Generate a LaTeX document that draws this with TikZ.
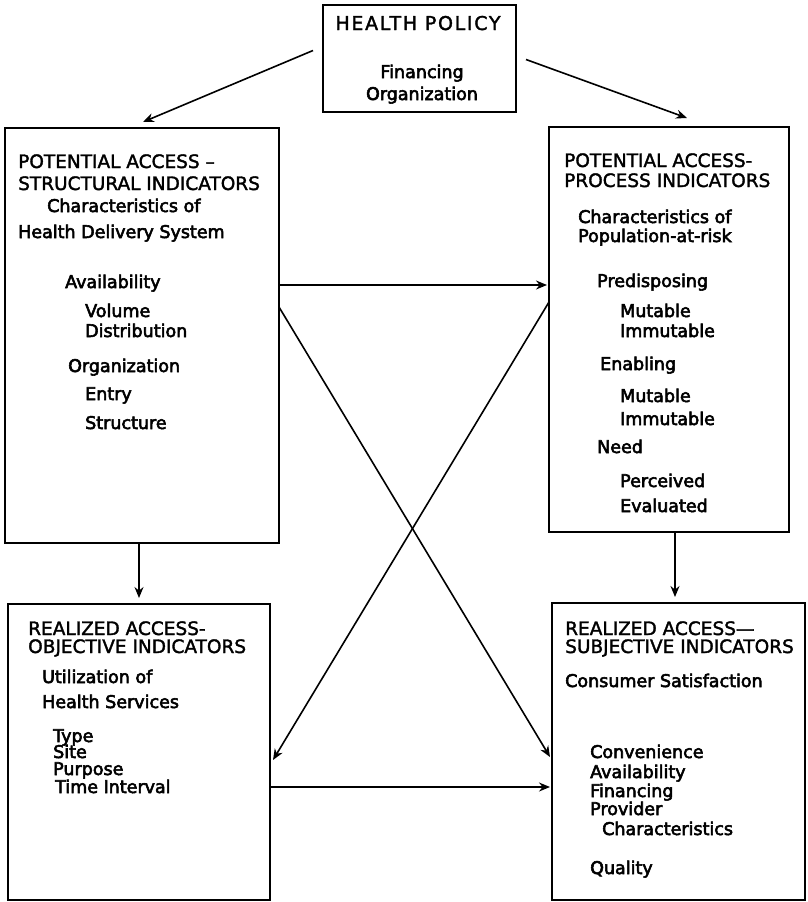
\documentclass[tikz,border=0pt]{standalone}
\usepackage{fontspec}
\setmainfont{DejaVu Sans}
\newfontfamily\medfont{DejaVu Sans}[FakeBold=1.8]
\newfontfamily\heavyfont{DejaVu Sans}[FakeBold=3.2]
\usetikzlibrary{arrows.meta,calc}
\begin{document}
\begin{tikzpicture}[x=1pt,y=-1pt,
  box/.style={draw,line width=1.8pt,inner sep=0pt,outer sep=0pt},
  captxt/.style={anchor=base west,inner sep=0pt,font=\medfont\fontsize{18.5}{20}\selectfont},
  txt/.style={anchor=base west,inner sep=0pt,font=\heavyfont\fontsize{17.5}{20}\selectfont},
  ctxt/.style={anchor=base,inner sep=0pt,font=\heavyfont\fontsize{17.5}{20}\selectfont},
  arr/.style={line width=1.6pt,-{Stealth[length=11pt,width=9pt]}}]
\useasboundingbox (0,0) rectangle (807,902);

% boxes
\node[box,minimum width=193pt,minimum height=107pt] (hp) at (419.5,58.5) {};
\node[box,minimum width=274pt,minimum height=415pt] (lt) at (142,335.5) {};
\node[box,minimum width=240pt,minimum height=405pt] (rt) at (669,329.5) {};
\node[box,minimum width=262pt,minimum height=296pt] (lb) at (139,752) {};
\node[box,minimum width=253pt,minimum height=297pt] (rb) at (678.5,751.5) {};

% health policy
\node[ctxt,font=\medfont\fontsize{19}{20}\selectfont\addfontfeatures{LetterSpace=9}] (hp1) at (418,30) {HEALTH POLICY};
\node[ctxt] (hp2) at (422,78) {Financing};
\node[ctxt] (hp3) at (422,100) {Organization};

% left top
\node[captxt] (lt1) at (18,168) {POTENTIAL ACCESS –};
\node[captxt] (lt2) at (18,190) {STRUCTURAL INDICATORS};
\node[txt] (lt3) at (47,212) {Characteristics of};
\node[txt] (lt4) at (18,238) {Health Delivery System};
\node[txt] (lt5) at (65,288) {Availability};
\node[txt] (lt6) at (85,317) {Volume};
\node[txt] (lt7) at (85,337) {Distribution};
\node[txt] (lt8) at (68,372) {Organization};
\node[txt] (lt9) at (85,400) {Entry};
\node[txt] (lt10) at (85,429) {Structure};

% right top
\node[captxt] (rt1) at (564,167) {POTENTIAL ACCESS-};
\node[captxt] (rt2) at (564,187) {PROCESS INDICATORS};
\node[txt] (rt3) at (578,223) {Characteristics of};
\node[txt] (rt4) at (578,242) {Population-at-risk};
\node[txt] (rt5) at (597,287) {Predisposing};
\node[txt] (rt6) at (620,317) {Mutable};
\node[txt] (rt7) at (620,337) {Immutable};
\node[txt] (rt8) at (600,370) {Enabling};
\node[txt] (rt9) at (620,402) {Mutable};
\node[txt] (rt10) at (620,425) {Immutable};
\node[txt] (rt11) at (597,453) {Need};
\node[txt] (rt12) at (620,487) {Perceived};
\node[txt] (rt13) at (620,512) {Evaluated};

% left bottom
\node[captxt] (lb1) at (28,635) {REALIZED ACCESS-};
\node[captxt] (lb2) at (28,653) {OBJECTIVE INDICATORS};
\node[txt] (lb3) at (42,683) {Utilization of};
\node[txt] (lb4) at (42,708) {Health Services};
\node[txt] (lb5) at (53,742) {Type};
\node[txt] (lb6) at (53,758) {Site};
\node[txt] (lb7) at (53,775) {Purpose};
\node[txt] (lb8) at (55,793) {Time Interval};

% right bottom
\node[captxt] (rb1) at (565,635) {REALIZED ACCESS—};
\node[captxt] (rb2) at (565,653) {SUBJECTIVE INDICATORS};
\node[txt] (rb3) at (565,687) {Consumer Satisfaction};
\node[txt] (rb4) at (590,758) {Convenience};
\node[txt] (rb5) at (590,778) {Availability};
\node[txt] (rb6) at (590,797) {Financing};
\node[txt] (rb7) at (590,815) {Provider};
\node[txt] (rb8) at (602,835) {Characteristics};
\node[txt] (rb9) at (590,874) {Quality};

% connectors
\draw[arr] ($(hp.west)+(-10,-8)$) -- ($(lt.north)+(1,-6)$);
\draw[arr] ($(hp.east)+(10,1)$) -- ($(rt.north)+(18,-9)$);
\draw[arr] ($(lt.north east)+(0,157)$) -- ($(rt.north west)+(-2,158)$);
\draw[arr] ($(lt.north east)+(0,179)$) -- ($(rb.north west)+(-2,154)$);
\draw[arr] ($(rt.north west)+(0,175)$) -- ($(lb.north east)+(3,156)$);
\draw[arr] ($(lb.north east)+(0,183)$) -- ($(rb.north west)+(-2,184)$);
\draw[arr] ($(lt.south)+(-3,0)$) -- ($(lb.north)+(0,-6)$);
\draw[arr] ($(rt.south)+(6,0)$) -- ($(rb.north)+(-3.5,-6)$);
\end{tikzpicture}
\end{document}
